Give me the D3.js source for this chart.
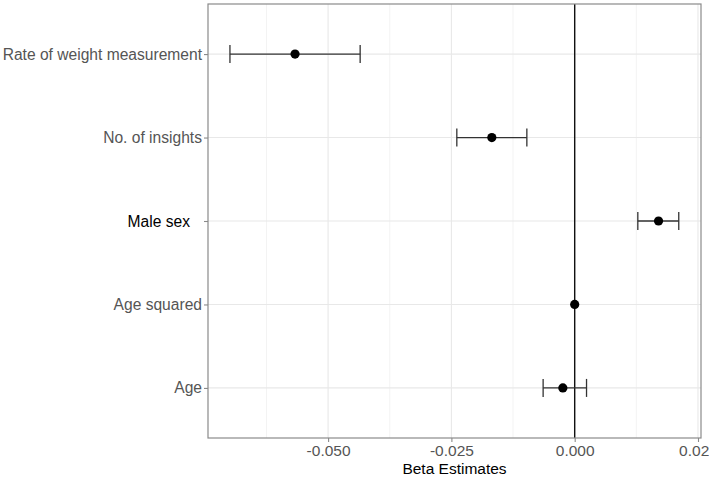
<!DOCTYPE html>
<html>
<head>
<meta charset="utf-8">
<script src="https://cdn.jsdelivr.net/npm/d3@7"></script>
<style>
  body { margin: 0; background: #fff; }
  svg { font-family: "Liberation Sans", Arial, sans-serif; }
</style>
</head>
<body>
<div id="chart"></div>
<script>

// values
var terms = ["Rate of weight measurement", "No. of insights", "Male sex", "Age squared", "Age"];
var estimates = [-0.0567, -0.0168, 0.0170, 0.0000, -0.0024];
var lower = [-0.0699, -0.0239, 0.0128, 0.0000, -0.0064];
var upper = [-0.0435, -0.0097, 0.0211, 0.0000, 0.0024];
var xTicks = [-0.050, -0.025, 0.000, 0.025];
var xMinor = [-0.0625, -0.0375, -0.0125, 0.0125];
var xDomain = [-0.07435, 0.02561];

var margin = {top: 4, right: 8, bottom: 42, left: 208},
    width = 709 - margin.left - margin.right,
    height = 480 - margin.top - margin.bottom;

var rows = terms.map(function(t, i){
    return {term: t, est: estimates[i], lo: lower[i], hi: upper[i]};
});

var x = d3.scaleLinear()
    .domain(xDomain)
    .range([0, width]);

var y = d3.scalePoint()
    .domain(terms)
    .range([0, height])
    .padding(0.6);

var fmt = function(d){ return d3.format(".3f")(d).replace("\u2212", "-"); };

var svg = d3.select("#chart")
    .append("svg")
    .attr("width", 709)
    .attr("height", 480);

var g = svg.append("g")
    .attr("transform", "translate(" + margin.left + "," + margin.top + ")");

// grid
g.selectAll(".minor")
    .data(xMinor)
    .enter()
    .append("line")
    .attr("x1", function(d){ return x(d); })
    .attr("x2", function(d){ return x(d); })
    .attr("y1", 0)
    .attr("y2", height)
    .attr("stroke", "#f3f3f3")
    .attr("stroke-width", 1);

g.selectAll(".major-x")
    .data(xTicks)
    .enter()
    .append("line")
    .attr("x1", function(d){ return x(d); })
    .attr("x2", function(d){ return x(d); })
    .attr("y1", 0)
    .attr("y2", height)
    .attr("stroke", "#e8e8e8")
    .attr("stroke-width", 1.1);

g.selectAll(".major-y")
    .data(terms)
    .enter()
    .append("line")
    .attr("x1", 0)
    .attr("x2", width)
    .attr("y1", function(d){ return y(d); })
    .attr("y2", function(d){ return y(d); })
    .attr("stroke", "#e8e8e8")
    .attr("stroke-width", 1.1);

// zero line
g.append("line")
    .attr("x1", x(0))
    .attr("x2", x(0))
    .attr("y1", 0)
    .attr("y2", height)
    .attr("stroke", "#111")
    .attr("stroke-width", 1.4);

// error bars
var bars = g.selectAll(".bar")
    .data(rows.filter(function(d){ return d.hi > d.lo; }))
    .enter()
    .append("g");

bars.append("line")
    .attr("x1", function(d){ return x(d.lo); })
    .attr("x2", function(d){ return x(d.hi); })
    .attr("y1", function(d){ return y(d.term); })
    .attr("y2", function(d){ return y(d.term); });

bars.append("line")
    .attr("x1", function(d){ return x(d.lo); })
    .attr("x2", function(d){ return x(d.lo); })
    .attr("y1", function(d){ return y(d.term) - 9; })
    .attr("y2", function(d){ return y(d.term) + 9; });

bars.append("line")
    .attr("x1", function(d){ return x(d.hi); })
    .attr("x2", function(d){ return x(d.hi); })
    .attr("y1", function(d){ return y(d.term) - 9; })
    .attr("y2", function(d){ return y(d.term) + 9; });

bars.selectAll("line")
    .attr("stroke", "#333")
    .attr("stroke-width", 1.3);

// points
g.selectAll(".pt")
    .data(rows)
    .enter()
    .append("circle")
    .attr("cx", function(d){ return x(d.est); })
    .attr("cy", function(d){ return y(d.term); })
    .attr("r", 4.6)
    .attr("fill", "#000");

// panel border
g.append("rect")
    .attr("width", width)
    .attr("height", height)
    .attr("fill", "none")
    .attr("stroke", "#8a8a8a")
    .attr("stroke-width", 1.2);

// axes
var xAxis = g.append("g")
    .attr("transform", "translate(0," + height + ")")
    .call(d3.axisBottom(x).tickValues(xTicks).tickFormat(fmt).tickSize(4).tickPadding(3));

var yAxis = g.append("g")
    .call(d3.axisLeft(y).tickSize(4).tickPadding(2));

[xAxis, yAxis].forEach(function(a){
    a.select(".domain").remove();
    a.selectAll(".tick line").attr("stroke", "#8a8a8a").attr("stroke-width", 1.1);
    a.selectAll("text").attr("fill", "#555");
});

xAxis.selectAll("text")
    .style("font-size", "15.5px");

yAxis.selectAll("text")
    .style("font-size", "15.6px")
    .filter(function(d){ return d == "Male sex"; })
    .attr("fill", "#000")
    .attr("dx", -12);

g.append("text")
    .attr("x", width / 2)
    .attr("y", height + 36)
    .attr("text-anchor", "middle")
    .style("font-size", "15.5px")
    .attr("fill", "#000")
    .text("Beta Estimates");

</script>
</body>
</html>
